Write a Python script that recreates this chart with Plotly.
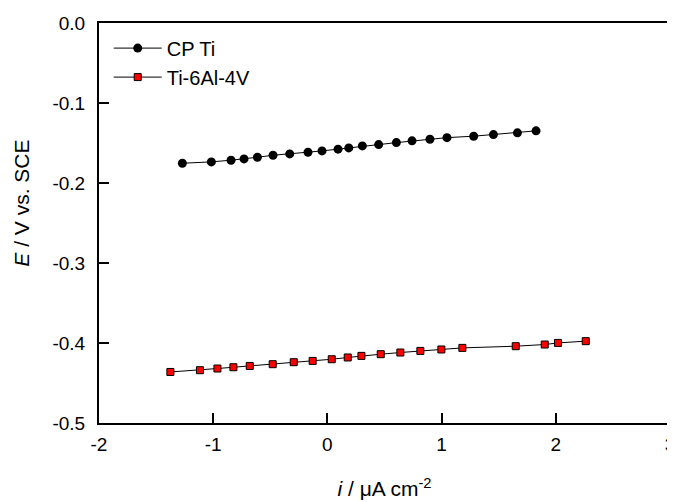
import plotly.graph_objects as go

# CP Ti
cp_i = [-1.270, -1.016, -0.844, -0.730, -0.613, -0.476, -0.330, -0.170, -0.047, 0.093,
        0.187, 0.306, 0.449, 0.604, 0.741, 0.898, 1.047, 1.281, 1.454, 1.664, 1.827]
cp_E = [-0.1753, -0.1736, -0.1715, -0.1699, -0.1678, -0.1653, -0.1636, -0.1615, -0.1599, -0.1577,
        -0.1561, -0.1536, -0.1520, -0.1495, -0.1473, -0.1453, -0.1433, -0.1415, -0.1395, -0.1373, -0.1348]

# Ti-6Al-4V
ti_i = [-1.375, -1.116, -0.963, -0.823, -0.680, -0.479, -0.295, -0.129, 0.038, 0.178,
        0.298, 0.467, 0.639, 0.814, 0.998, 1.182, 1.649, 1.903, 2.019, 2.262]
ti_E = [-0.4362, -0.4340, -0.4319, -0.4303, -0.4287, -0.4265, -0.4240, -0.4224, -0.4203, -0.4181,
        -0.4161, -0.4140, -0.4119, -0.4099, -0.4081, -0.4061, -0.4040, -0.4019, -0.3999, -0.3977]

x_ticks = [-2, -1, 0, 1, 2, 3]
x_ticktext = ["-2", "-1", "0", "1", "2", "3"]
y_ticks = [0.0, -0.1, -0.2, -0.3, -0.4, -0.5]
y_ticktext = ["0.0", "-0.1", "-0.2", "-0.3", "-0.4", "-0.5"]

FONT = "Liberation Sans, Arial, sans-serif"

fig = go.Figure()
fig.add_trace(go.Scatter(
    x=cp_i, y=cp_E, name="CP Ti", mode="lines+markers",
    line=dict(color="black", width=1),
    marker=dict(symbol="circle", size=9, color="black"),
))
fig.add_trace(go.Scatter(
    x=ti_i, y=ti_E, name="Ti-6Al-4V", mode="lines+markers",
    line=dict(color="black", width=1),
    marker=dict(symbol="square", size=7, color="#ff0000", line=dict(color="black", width=1)),
))

fig.add_annotation(
    text="<i>E</i> / V vs. SCE", textangle=-90,
    xref="paper", yref="paper", x=-0.1354, y=0.55,
    xanchor="center", yanchor="middle", showarrow=False,
    font=dict(family=FONT, size=21, color="black"),
)

fig.update_layout(
    width=675, height=494,
    margin=dict(l=91, r=13, t=15, b=79, autoexpand=False),
    paper_bgcolor="white", plot_bgcolor="white",
    font=dict(family=FONT, size=19, color="black"),
    showlegend=True,
    legend=dict(x=0.017, y=0.986, xanchor="left", yanchor="top", itemwidth=48,
                bgcolor="rgba(0,0,0,0)", font=dict(size=20), tracegroupgap=0),
    xaxis=dict(
        range=[-2, 3], tickvals=x_ticks, ticktext=x_ticktext,
        showline=True, linecolor="black", linewidth=2, mirror=True,
        ticks="inside", ticklen=10, tickwidth=1.5, tickcolor="black",
        showgrid=False, zeroline=False, ticklabelstandoff=3,
        ticklabeloverflow="allow",
        title=dict(text="<i>i</i> / μA cm<sup>-2</sup>", font=dict(size=21), standoff=28),
    ),
    yaxis=dict(
        range=[-0.5, 0.0], tickvals=y_ticks, ticktext=y_ticktext,
        showline=True, linecolor="black", linewidth=2, mirror=True,
        ticks="inside", ticklen=10, tickwidth=1.5, tickcolor="black",
        showgrid=False, zeroline=False, ticklabelstandoff=8,
        ticklabeloverflow="allow",
    ),
)

fig.write_html("out.html")
